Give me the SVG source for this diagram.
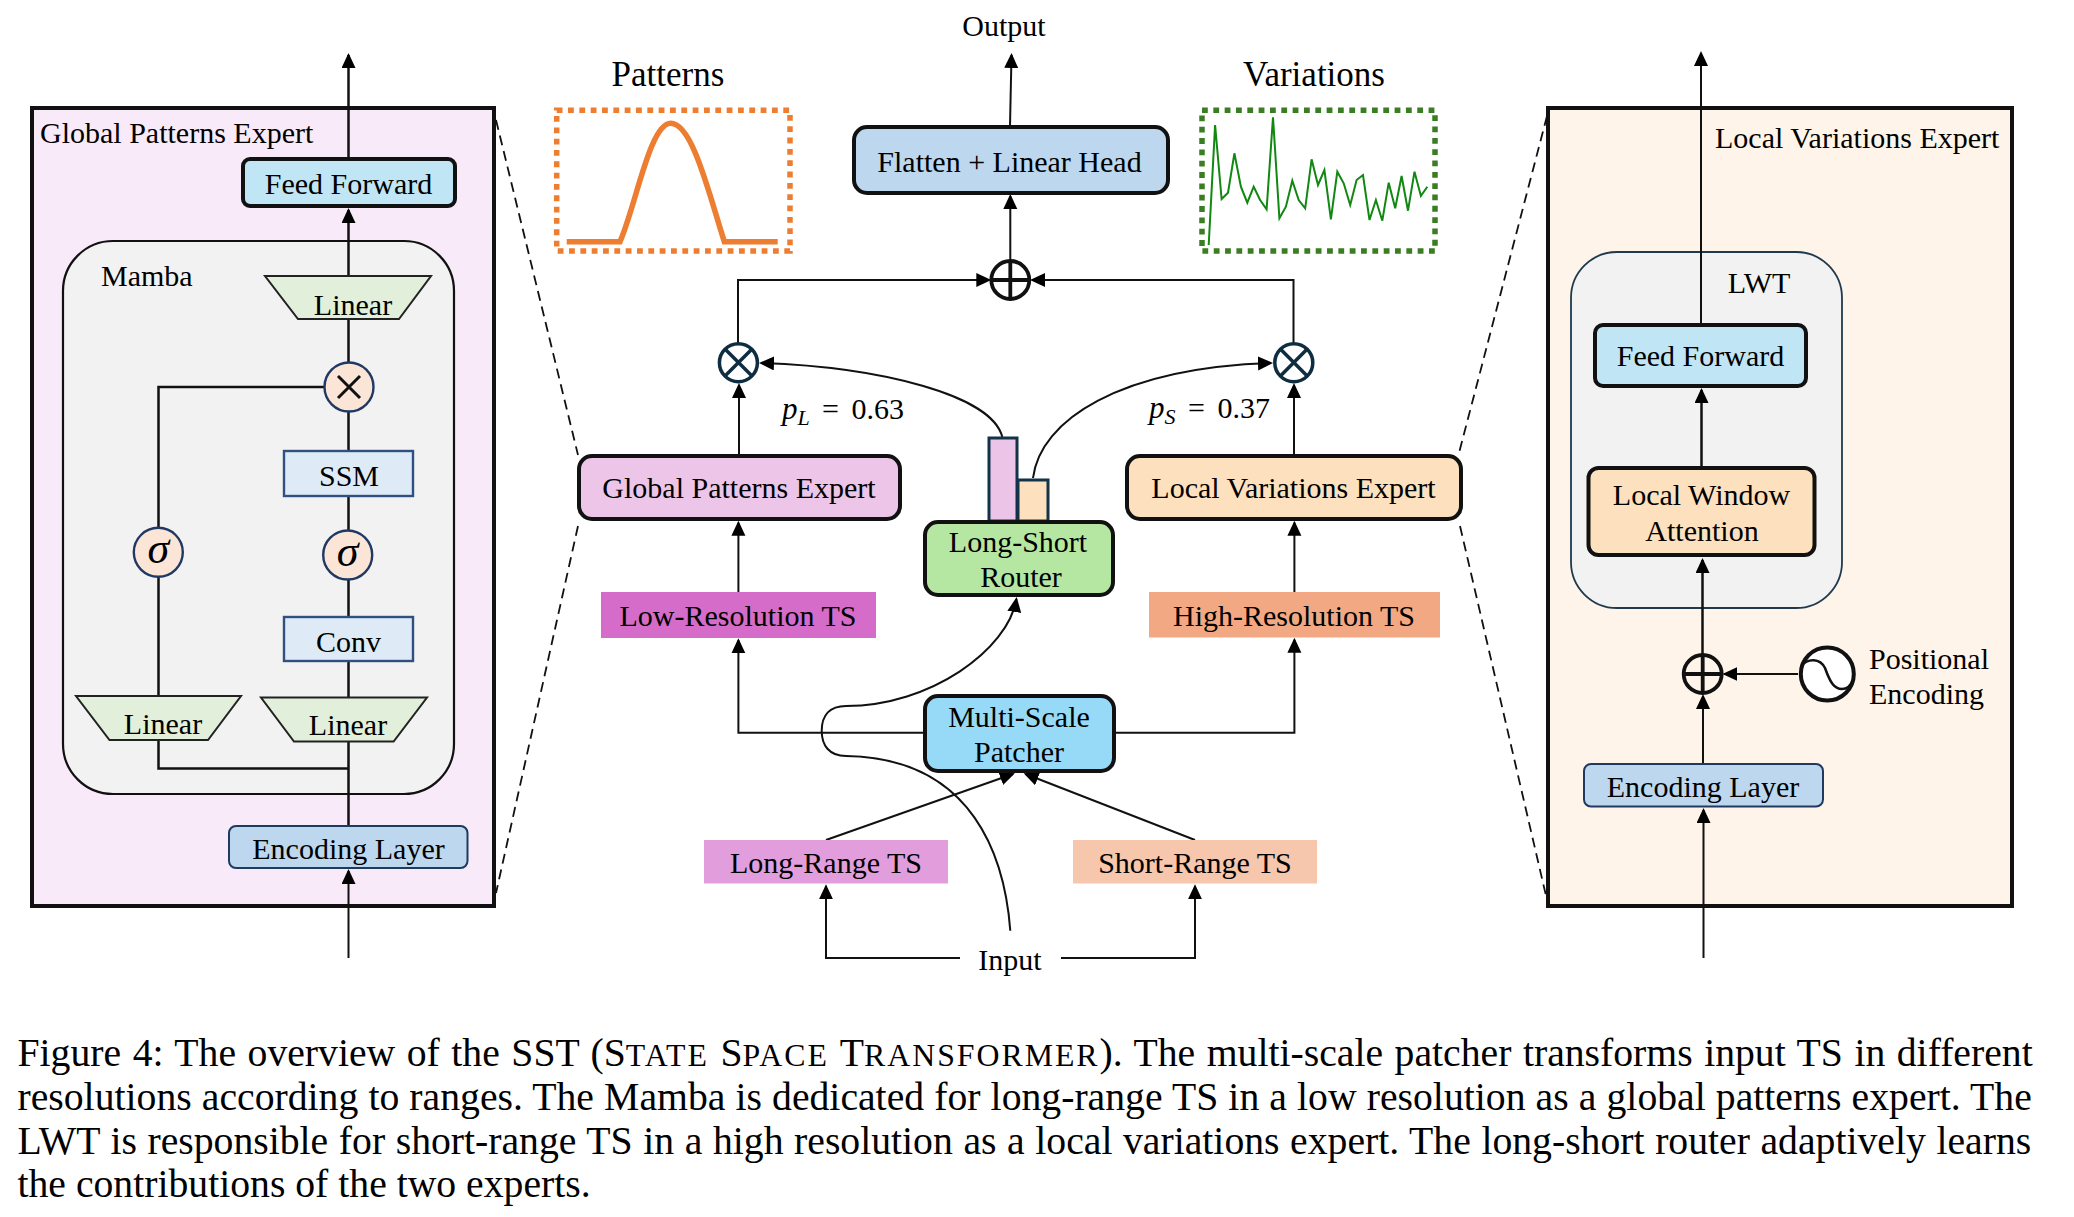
<svg xmlns="http://www.w3.org/2000/svg" width="2074" height="1217" viewBox="0 0 2074 1217">
<style>
text{font-family:"Liberation Serif","Times New Roman",serif;font-size:30px;fill:#000}
.m{text-anchor:middle}
.cap{font-size:39.7px}
.sc{font-size:31.8px;letter-spacing:2px}
.ln{fill:none;stroke:#111;stroke-width:2}
.lp{stroke-width:2.500}
.ar{marker-end:url(#ah)}
.dash{fill:none;stroke:#111;stroke-width:1.8;stroke-dasharray:10 6}
.box{stroke:#111;stroke-width:4}
.thin{stroke:#1f3a5f;stroke-width:2}
.trap{fill:#e2efda;stroke:#222;stroke-width:2}
.conv{fill:#deebf7;stroke:#2f5080;stroke-width:2.400}
.op{fill:#fbe5d6;stroke:#1f3864;stroke-width:2.400}
.sym{fill:none;stroke:#111;stroke-width:3.800}
.sym2{fill:none;stroke:#0f2d40;stroke-width:3.500}
.sg{font-size:44px;font-style:italic}
.dot{fill:none;stroke-width:5.500;stroke-dasharray:5.800 5.530}
.ts{stroke:none}
</style>
<defs>
<marker id="ah" markerUnits="userSpaceOnUse" markerWidth="16" markerHeight="15" refX="13" refY="7" orient="auto"><path d="M0 0L15 7L0 14z" fill="#000"/></marker>
</defs>
<g id="panel-global"><rect x="32" y="108" width="462" height="798" fill="#f8eaf8" stroke="#111" stroke-width="4"/><text x="40" y="143">Global Patterns Expert</text></g>
<g id="panel-mamba"><rect x="63" y="241" width="391" height="553" rx="50" fill="#f2f2f2" stroke="#111" stroke-width="2.200"/><text x="101" y="286">Mamba</text></g>
<g id="panel-local"><rect x="1548" y="108" width="464" height="798" fill="#fef4e9" stroke="#111" stroke-width="4"/><text x="1715" y="148">Local Variations Expert</text></g>
<g id="panel-lwt"><rect x="1571" y="252" width="271" height="356" rx="46" fill="#f2f2f2" stroke="#1f3a4d" stroke-width="1.800"/><text class="m" x="1759" y="293">LWT</text></g>
<g id="connectors">
<path class="dash" d="M496 120L578 455M578 526L496 893M1547 116L1459 453M1460 526L1547 900"/>
<path class="ln lp ar" d="M348.500 159V55"/>
<path class="ln lp ar" d="M348.500 276V210"/>
<path class="ln lp" d="M348.500 826V276M158.500 696V387H325M158.500 740V768.500H348"/>
<path class="ln ar" d="M348.500 958V871"/>
<path class="ln ar" d="M1701 324V53"/>
<path class="ln lp ar" d="M1701.500 467V390"/>
<path class="ln lp ar" d="M1702.500 655V560"/>
<path class="ln ar" d="M1703 763V696"/>
<path class="ln ar" d="M1798 674H1724.400"/>
<path class="ln ar" d="M1703.500 958V810"/>
<path class="ln ar" d="M1010 126L1011.500 55"/>
<path class="ln ar" d="M1010.300 260V196"/>
<path class="ln ar" d="M738 343V280H989.300"/>
<path class="ln ar" d="M1293.500 343V280H1032"/>
<path class="ln ar" d="M739 455V385"/>
<path class="ln ar" d="M1294 455V385"/>
<path class="ln ar" d="M1002.300 437C992 395 880 367 761 363"/>
<path class="ln ar" d="M1033 478C1040 420 1120 368 1271 363"/>
<path class="ln ar" d="M738.400 592V522.700"/>
<path class="ln ar" d="M1294.400 592V522.700"/>
<path class="ln ar" d="M925 732.700H738.400V640.300"/>
<path class="ln ar" d="M1114 732.700H1294.400V639.700"/>
<path class="ln ar" d="M1010.300 930.700C1005 860 975 758 846 756C829 756 821.700 745 821.700 731C821.700 715 830 706 846 706C930 706 1008 650 1016.400 599"/>
<path class="ln ar" d="M826 840L1013 774"/>
<path class="ln ar" d="M1195 840L1025.500 774"/>
<path class="ln ar" d="M960 958H826V886.300"/>
<path class="ln ar" d="M1061 958H1195V886.300"/>
</g>
<g id="ff-left"><rect class="box" x="243" y="159" width="212" height="47" rx="7" fill="#c0e6f6"/><text class="m" x="348.500" y="194">Feed Forward</text></g>
<g id="linear-top"><polygon class="trap" points="265,276 431,276 399,319 298,319"/><text class="m" x="353" y="315">Linear</text></g>
<g id="mult"><circle class="op" cx="349" cy="387" r="24.500"/><path class="sym" style="stroke-width:3" d="M338 376L360 398M360 376L338 398"/></g>
<g id="ssm"><rect class="conv" x="284" y="451" width="129" height="45"/><text class="m" x="349" y="486">SSM</text></g>
<g id="sigma-right"><circle class="op" cx="347.700" cy="555" r="24.500"/><text class="m sg" x="347.700" y="566">σ</text></g>
<g id="sigma-left"><circle class="op" cx="158.300" cy="552.300" r="24.500"/><text class="m sg" x="158.300" y="563.300">σ</text></g>
<g id="conv"><rect class="conv" x="284" y="617" width="129" height="44"/><text class="m" x="348.500" y="652">Conv</text></g>
<g id="linear-left"><polygon class="trap" points="76,696 241,696 208,740 109.500,740"/><text class="m" x="163" y="734">Linear</text></g>
<g id="linear-right"><polygon class="trap" points="261,697.500 427,697.500 393.600,741.500 294,741.500"/><text class="m" x="348" y="735">Linear</text></g>
<g id="enc-left"><rect class="thin" x="229" y="826" width="238.500" height="42" rx="7" fill="#bdd7ee"/><text class="m" x="348.500" y="859">Encoding Layer</text></g>
<g id="output-label"><text class="m" x="1004" y="36">Output</text></g>
<g id="patterns"><text class="m" x="668" y="86" style="font-size:35px">Patterns</text><rect class="dot" x="556.700" y="110.300" width="233.300" height="140.700" stroke="#ed7d31"/><path d="M566.700 241.700H620C636 205 650 123.300 670.700 123.300C692 123.300 708 190 724.300 241.700H777.700" fill="none" stroke="#ed7d31" stroke-width="5.500"/></g>
<g id="variations"><text class="m" x="1314" y="86" style="font-size:35px">Variations</text><rect class="dot" x="1202" y="110.300" width="233" height="140.700" stroke="#3a7d22"/><polyline fill="none" stroke="#118811" stroke-width="2" points="1208.700,245 1215.100,125 1221.600,199 1228,192.700 1234.400,153.300 1240.900,186.700 1247.300,202.700 1253.700,186.700 1260.100,200 1266.600,209.300 1273,117.300 1279.400,218.300 1285.900,206.700 1292.300,180.700 1298.700,200 1305.200,208.300 1311.600,159.300 1318,185 1324.400,170 1330.900,219.300 1337.300,171.700 1343.700,183.300 1350.200,205 1356.600,180 1363,175 1369.500,220 1375.900,200 1382.300,220.700 1388.700,182.700 1395.200,208.300 1401.600,176 1408,210.700 1414.500,171.700 1420.900,196 1427.300,186.700"/></g>
<g id="flatten"><rect class="box" x="854" y="127" width="314" height="66" rx="13" fill="#bdd7ee"/><text class="m" x="1009.500" y="172">Flatten + Linear Head</text></g>
<g id="add-center"><circle class="sym" cx="1010.300" cy="280" r="19"/><path class="sym" d="M991 280H1029.500M1010.300 261V299"/></g>
<g id="mul-left"><circle class="sym2" cx="738.400" cy="362.700" r="19"/><path class="sym2" d="M725 349L752 376M752 349L725 376"/></g>
<g id="mul-right"><circle class="sym2" cx="1293.800" cy="362.700" r="19"/><path class="sym2" d="M1280.400 349L1307.200 376M1307.200 349L1280.400 376"/></g>
<g id="pl-label"><text x="782" y="419"><tspan font-style="italic" style="font-size:31px">p</tspan><tspan font-style="italic" dy="6" style="font-size:22px">L</tspan><tspan x="822" dy="-6" word-spacing="5">= 0.63</tspan></text></g>
<g id="ps-label"><text x="1149" y="418"><tspan font-style="italic" style="font-size:31px">p</tspan><tspan font-style="italic" dy="6" style="font-size:22px">S</tspan><tspan x="1188" dy="-6" word-spacing="5">= 0.37</tspan></text></g>
<g id="gpe"><rect class="box" x="579" y="456" width="321" height="63" rx="13" fill="#edc5e8"/><text class="m" x="739" y="498">Global Patterns Expert</text></g>
<g id="lve"><rect class="box" x="1127" y="456" width="334" height="63" rx="13" fill="#fde0bd"/><text class="m" x="1293.500" y="498">Local Variations Expert</text></g>
<g id="router"><rect x="989" y="438" width="28" height="83" fill="#ecc4e8" stroke="#123349" stroke-width="3"/><rect x="1018" y="480" width="30" height="41" fill="#fde0bd" stroke="#123349" stroke-width="3"/><rect class="box" x="925" y="522" width="188" height="73" rx="13" fill="#b5e6a2"/><text class="m" x="1018" y="552">Long-Short</text><text class="m" x="1021" y="587">Router</text></g>
<g id="low-res"><rect class="ts" x="601" y="592" width="275" height="46" fill="#d56cc9"/><text class="m" x="738" y="626">Low-Resolution TS</text></g>
<g id="high-res"><rect class="ts" x="1149" y="592" width="291" height="45.500" fill="#f2a983"/><text class="m" x="1294" y="626">High-Resolution TS</text></g>
<g id="patcher"><rect class="box" x="925" y="696" width="189" height="75" rx="13" fill="#96daf8"/><text class="m" x="1019" y="727">Multi-Scale</text><text class="m" x="1019" y="762">Patcher</text></g>
<g id="long-range"><rect class="ts" x="704" y="840" width="244" height="43.500" fill="#e29edc"/><text class="m" x="826" y="873">Long-Range TS</text></g>
<g id="short-range"><rect class="ts" x="1073" y="840" width="244" height="43.500" fill="#f6c6ad"/><text class="m" x="1195" y="873">Short-Range TS</text></g>
<g id="input-label"><text class="m" x="1010" y="970">Input</text></g>
<g id="ff-right"><rect class="box" x="1595" y="325" width="211" height="61" rx="8" fill="#c0e6f6"/><text class="m" x="1700.500" y="366">Feed Forward</text></g>
<g id="lwa"><rect class="box" x="1588.500" y="468" width="226" height="87" rx="10" fill="#fde0bd"/><text class="m" x="1701.500" y="505">Local Window</text><text class="m" x="1702" y="541">Attention</text></g>
<g id="add-right"><circle class="sym" cx="1702.700" cy="674" r="19"/><path class="sym" d="M1684 674H1721.500M1702.700 655V693"/></g>
<g id="pos-enc"><circle cx="1827.300" cy="674" r="26.500" fill="#fff" stroke="#111" stroke-width="4"/><path d="M1801 666C1808 658 1820 658 1825 668C1830 682 1834 689 1842 689C1848 689 1851 685 1853 680" fill="none" stroke="#111" stroke-width="2.500"/><text x="1869" y="669">Positional</text><text x="1869" y="704">Encoding</text></g>
<g id="enc-right"><rect class="thin" x="1584" y="764" width="239" height="42.500" rx="7" fill="#bdd7ee"/><text class="m" x="1703" y="797">Encoding Layer</text></g>
<g id="caption">
<text class="cap" x="17.500" y="1066" word-spacing="1.600">Figure 4: The overview of the SST (S<tspan class="sc">TATE</tspan> S<tspan class="sc">PACE</tspan> T<tspan class="sc">RANSFORMER</tspan>). The multi-scale patcher transforms input TS in different</text>
<text class="cap" x="17.500" y="1109.500" word-spacing="0.200">resolutions according to ranges. The Mamba is dedicated for long-range TS in a low resolution as a global patterns expert. The</text>
<text class="cap" x="17.500" y="1153.500" word-spacing="0.680">LWT is responsible for short-range TS in a high resolution as a local variations expert. The long-short router adaptively learns</text>
<text class="cap" x="17.500" y="1197">the contributions of the two experts.</text>
</g>
</svg>
